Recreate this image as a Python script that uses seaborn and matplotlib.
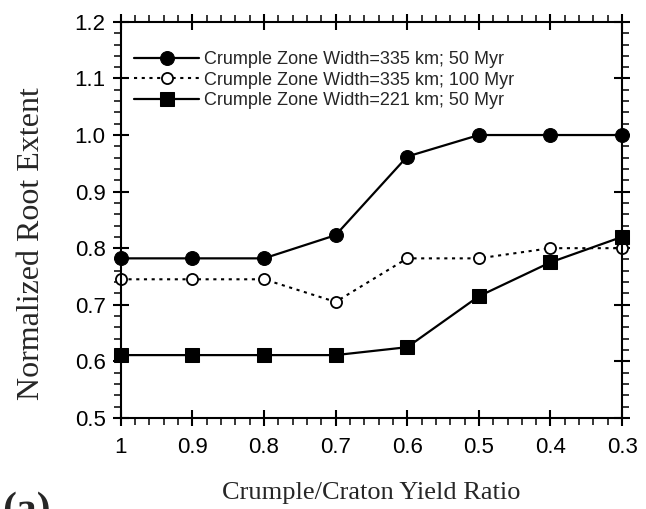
import numpy as np
import pandas as pd
import matplotlib
matplotlib.use("Agg")
import matplotlib.pyplot as plt
from matplotlib.ticker import MultipleLocator, FixedLocator, FixedFormatter
import seaborn as sns

# Crumple/craton yield ratio (x) and normalized root extent for each model run
yield_ratio = [1.0, 0.9, 0.8, 0.7, 0.6, 0.5, 0.4, 0.3]
root_335_50 = [0.782, 0.782, 0.782, 0.823, 0.962, 1.0, 1.0, 1.0]
root_335_100 = [0.745, 0.745, 0.745, 0.705, 0.782, 0.782, 0.800, 0.800]
root_221_50 = [0.611, 0.611, 0.611, 0.611, 0.625, 0.715, 0.775, 0.820]

labels = [
    "Crumple Zone Width=335 km; 50 Myr",
    "Crumple Zone Width=335 km; 100 Myr",
    "Crumple Zone Width=221 km; 50 Myr",
]
x_ticks = [1.0, 0.9, 0.8, 0.7, 0.6, 0.5, 0.4, 0.3]
x_tick_labels = ["1", "0.9", "0.8", "0.7", "0.6", "0.5", "0.4", "0.3"]
y_ticks = [0.5, 0.6, 0.7, 0.8, 0.9, 1.0, 1.1, 1.2]
y_tick_labels = ["0.5", "0.6", "0.7", "0.8", "0.9", "1.0", "1.1", "1.2"]

sns.set_style("ticks")
plt.rcParams["font.family"] = ["Liberation Sans", "DejaVu Sans"]

fig = plt.figure(figsize=(6.46, 5.09), dpi=100)
ax = fig.add_axes([0.187, 0.179, 0.776, 0.778])

df = pd.DataFrame({
    "ratio": yield_ratio * 3,
    "extent": root_335_50 + root_335_100 + root_221_50,
    "run": [labels[0]] * 8 + [labels[1]] * 8 + [labels[2]] * 8,
})

styles = [
    dict(marker="o", markersize=10, markerfacecolor="black", markeredgecolor="black",
         linestyle="-", linewidth=1.6),
    dict(marker="o", markersize=8, markerfacecolor="white", markeredgecolor="black",
         markeredgewidth=1.3, linestyle=(0, (1.5, 2.2)), linewidth=1.5),
    dict(marker="s", markersize=10, markerfacecolor="black", markeredgecolor="black",
         linestyle="-", linewidth=1.6),
]

for lab, st in zip(labels, styles):
    sub = df[df["run"] == lab]
    sns.lineplot(data=sub, x="ratio", y="extent", ax=ax, color="black",
                 label=lab, sort=False, clip_on=False, **st)

ax.set_xlim(1.0, 0.3)
ax.set_ylim(0.5, 1.2)

ax.xaxis.set_major_locator(FixedLocator(x_ticks))
ax.xaxis.set_major_formatter(FixedFormatter(x_tick_labels))
ax.yaxis.set_major_locator(FixedLocator(y_ticks))
ax.yaxis.set_major_formatter(FixedFormatter(y_tick_labels))
ax.xaxis.set_minor_locator(MultipleLocator(0.02))
ax.yaxis.set_minor_locator(MultipleLocator(0.02))

for s in ax.spines.values():
    s.set_visible(True)
    s.set_linewidth(1.5)
    s.set_color("black")

ax.tick_params(which="major", direction="inout", length=12, width=1.5,
               top=True, right=True, labelsize=16, colors="black")
ax.tick_params(which="minor", direction="out", length=5, width=1.3,
               top=True, right=True)
ax.tick_params(axis="x", which="major", pad=8)
ax.tick_params(axis="y", which="major", pad=5)

ax.set_xlabel("Crumple/Craton Yield Ratio", family=["Liberation Serif"],
              fontsize=19)
ax.xaxis.set_label_coords(0.5, -0.163)
ax.set_ylabel("Normalized Root Extent", family=["Liberation Serif"],
              fontsize=23)
ax.yaxis.set_label_coords(-0.15, 0.44)

leg = ax.legend(loc="upper left", frameon=False, fontsize=13,
                handlelength=3.6, handletextpad=0.3, labelspacing=0.2,
                borderaxespad=0.0, bbox_to_anchor=(0.012, 0.945))

fig.text(0.003, 0.035, "(a)", family=["Liberation Serif"], fontsize=30,
         fontweight="bold", va="top", ha="left")

fig.savefig("out.png", dpi=100)
